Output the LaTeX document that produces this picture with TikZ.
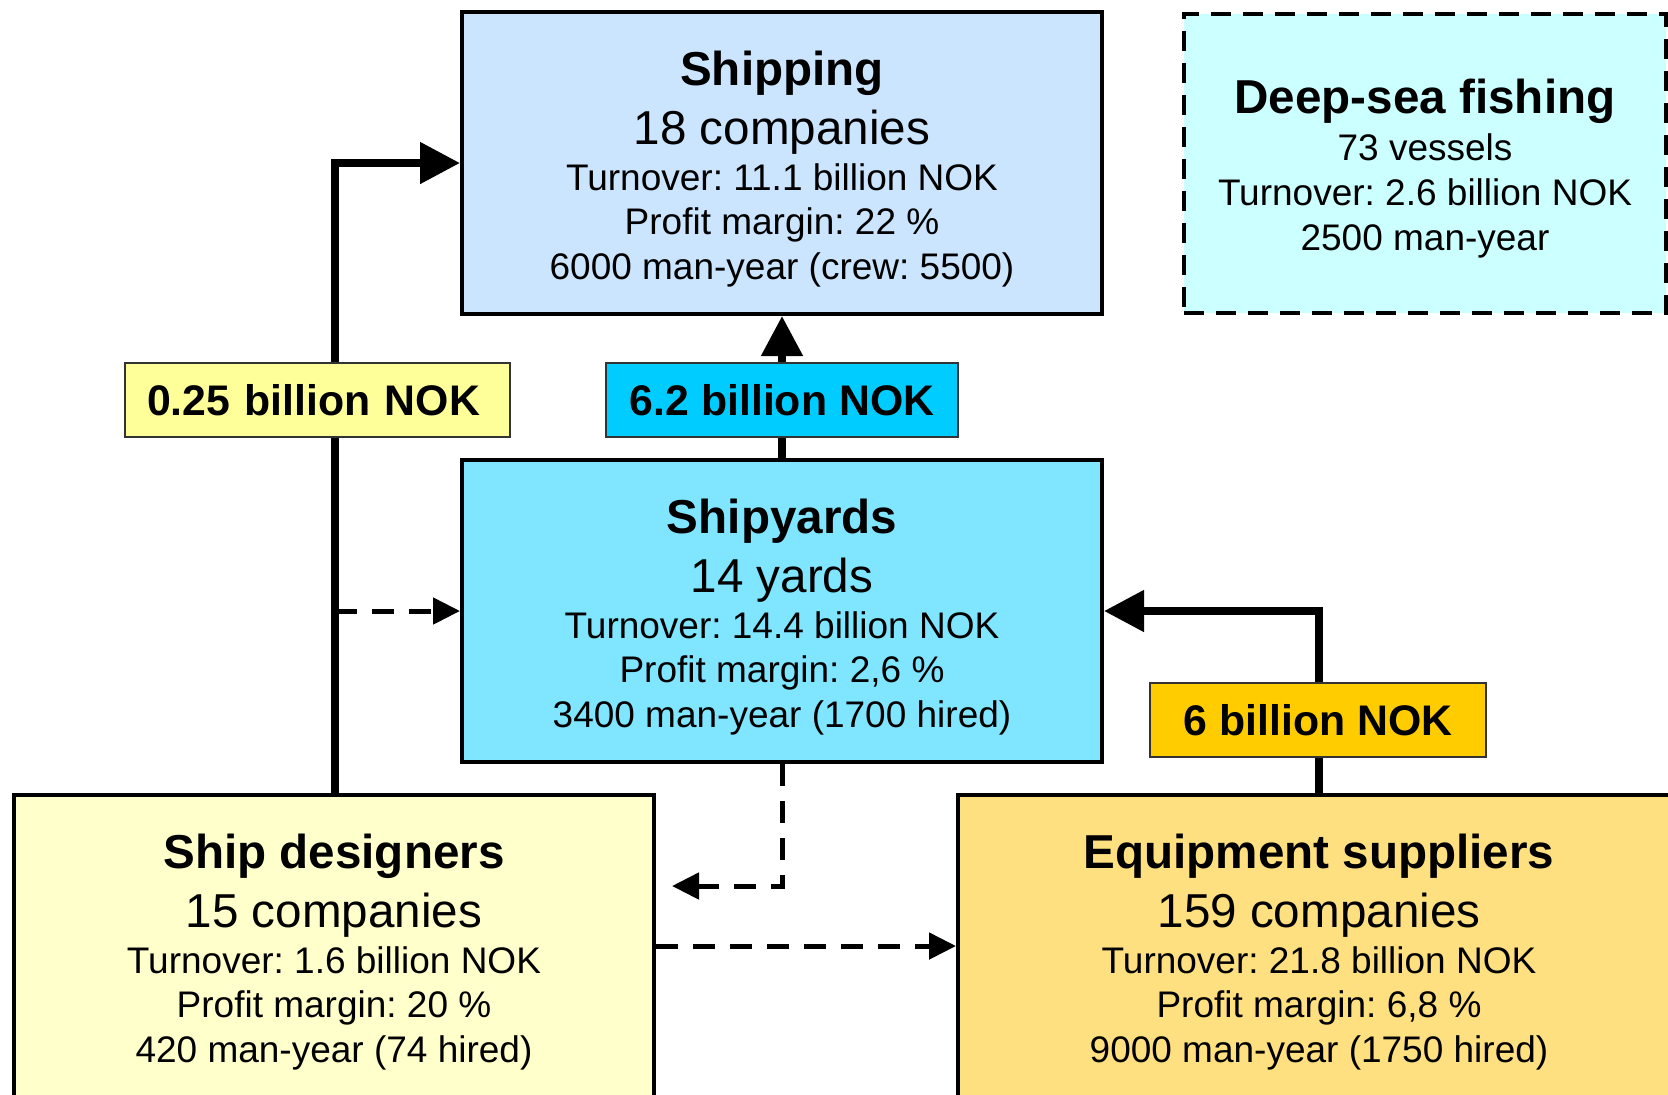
\documentclass[tikz,border=0pt]{standalone}
\usepackage{fontspec}
\setmainfont{Liberation Sans}
\usetikzlibrary{arrows.meta}
\frenchspacing

\definecolor{shipblue}{HTML}{CCE5FF}
\definecolor{yardblue}{HTML}{80E5FF}
\definecolor{fishcyan}{HTML}{CCFFFF}
\definecolor{designyellow}{HTML}{FFFFCC}
\definecolor{equipgold}{HTML}{FFE080}
\definecolor{lowyellow}{HTML}{FFFF99}
\definecolor{flowblue}{HTML}{00CCFF}
\definecolor{flowgold}{HTML}{FFCC00}

\newcommand{\boxtitle}[1]{{\fontsize{23.8}{28}\selectfont\bfseries #1}}
\newcommand{\boxsub}[1]{{\fontsize{23.8}{28}\selectfont #1}}

\begin{document}
\begin{tikzpicture}[x=0.5pt,y=-0.5pt,
  firm/.style={draw,line width=2pt,minimum width=320pt,minimum height=151pt,inner sep=0pt},
  info/.style={align=center,inner sep=0pt,font=\fontsize{18.5}{22.3}\selectfont},
  money/.style={draw=black!80,line width=1pt,minimum height=37pt,inner sep=0pt,
    font=\fontsize{21.4}{25}\selectfont\bfseries},
  flow/.style={line width=4pt,-{Triangle[length=20pt,width=20pt]}},
  link/.style={line width=2.5pt,dash pattern=on 11pt off 7.5pt,
    -{Triangle[length=13.5pt,width=13pt]}}]
  \clip (0,0) rectangle (1668,1094);
  % companies
  \node[firm,fill=shipblue] (shipping) at (782,163) {};
  \node[firm,fill=yardblue] (yards) at (782,611) {};
  \node[firm,fill=designyellow] (designers) at (334,946) {};
  \node[firm,fill=equipgold,minimum width=361pt] (equipment) at (1319,946) {};
  \node[draw,line width=2pt,dash pattern=on 10pt off 6pt,fill=fishcyan,
    minimum width=241pt,minimum height=149.5pt,inner sep=0pt] (fishing) at (1425,163.5) {};
  \node[info] (shippingtext) at (782,169) {\boxtitle{Shipping}\\[7pt]\boxsub{18 companies}\\[0.7pt]
    Turnover: 11.1 billion NOK\\Profit margin: 22 \%\\6000 man-year (crew: 5500)};
  \node[info] (yardstext) at (782,617) {\boxtitle{Shipyards}\\[7pt]\boxsub{14 yards}\\[0.7pt]
    Turnover: 14.4 billion NOK\\Profit margin: 2,6 \%\\3400 man-year (1700 hired)};
  \node[info] (designerstext) at (334,952) {\boxtitle{Ship designers}\\[7pt]\boxsub{15 companies}\\[0.7pt]
    Turnover: 1.6 billion NOK\\Profit margin: 20 \%\\420 man-year (74 hired)};
  \node[info] (equipmenttext) at (1319,952) {\boxtitle{Equipment suppliers}\\[7pt]\boxsub{159 companies}\\[0.7pt]
    Turnover: 21.8 billion NOK\\Profit margin: 6,8 \%\\9000 man-year (1750 hired)};
  \node[info] (fishingtext) at (1425,168.2) {\boxtitle{Deep-sea fishing}\\[1.6pt]73 vessels\\
    Turnover: 2.6 billion NOK\\2500 man-year};
  % money flows
  \coordinate (designout) at (335,797);
  \coordinate (backtip) at (672,886);
  \draw[flow] (designers.north -| designout) |- (shipping.west);
  \draw[flow] (yards.north) -- (shipping.south);
  \draw[flow] (equipment.north) |- (yards.east);
  \draw[link] (designout |- yards.west) -- (yards.west);
  \draw[link] (yards.south) |- (backtip);
  \draw[link] (designers.east) -- (equipment.west);
  \node[money,fill=lowyellow,minimum width=192.5pt,text width=170.5pt,align=left] (lowflow) at (317.5,400) {0.25 billion NOK};
  \node[money,fill=flowblue,minimum width=176pt] (yardflow) at (782,400) {6.2 billion NOK};
  \node[money,fill=flowgold,minimum width=168pt] (equipflow) at (1318,720) {6 billion NOK};
\end{tikzpicture}
\end{document}
